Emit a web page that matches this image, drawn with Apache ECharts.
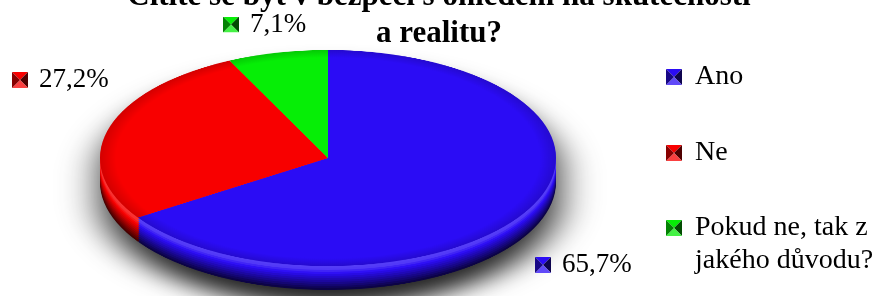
<!DOCTYPE html>
<html>
<head>
<meta charset="utf-8">
<script src="https://cdn.jsdelivr.net/npm/echarts@6/dist/echarts.min.js"></script>
<style>
  html, body { margin: 0; padding: 0; background: #fff; }
  #wrap { position: relative; width: 878px; height: 296px; overflow: hidden; }
  #pie { position: absolute; left: 0; top: 0; width: 878px; transform-origin: 0 0;
         filter: drop-shadow(2px 36px 20px rgba(0, 0, 0, 0.85)); }
  #fg { position: absolute; left: 0; top: 0; width: 878px; height: 296px; }
</style>
</head>
<body>
<div id="wrap"><div id="pie"></div><div id="fg"></div></div>
<script>
// data
const categories = ['Ano', 'Ne', 'Pokud ne, tak z jakého důvodu?']
const values = [65.7, 27.2, 7.1]
const colors = ['#2b0cf5', '#f80000', '#06ee06']

const titleText = 'Cítíte se být v bezpečí s ohledem na skutečnosti\na realitu?'
const FONT = '"Liberation Serif", "Times New Roman", serif'

// pie geometry (screen px): flattened by scaling the pie canvas
const CX = 328
const CY = 158
const R = 228
const RY = 108
const DEPTH = 24
const K = RY / R

// label anchors (left edge of icon, vertical middle)
const labelPos = [[535, 265], [12, 80], [223, 24.5]]

function hexRgb(hex) {
  const n = parseInt(hex.slice(1), 16)
  return [(n >> 16) & 255, (n >> 8) & 255, n & 255]
}
function shade(hex, f) {
  const c = hexRgb(hex).map(v => Math.round(v * f))
  return 'rgb(' + c.join(',') + ')'
}
function tint(hex, t) {
  const c = hexRgb(hex).map(v => Math.round(v + (255 - v) * t))
  return 'rgb(' + c.join(',') + ')'
}
// rim colour by depth fraction: highlight just under the edge, then darker
function rimColor(c, f) {
  if (f < 0.15) return tint(c, 0.2)
  if (f < 0.35) return tint(c, 0.2 * (0.35 - f) / 0.2)
  return shade(c, 1 - 0.72 * (f - 0.35) / 0.65)
}
function iconUrl(c) {
  const svg = "<svg xmlns='http://www.w3.org/2000/svg' width='16' height='16'>" +
    "<polygon points='0,0 16,0 8,8' fill='" + c + "'/>" +
    "<polygon points='16,0 16,16 8,8' fill='" + shade(c, 0.32) + "'/>" +
    "<polygon points='0,16 16,16 8,8' fill='" + tint(c, 0.25) + "'/>" +
    "<polygon points='0,0 0,16 8,8' fill='" + shade(c, 0.55) + "'/>" +
    '</svg>'
  return 'data:image/svg+xml;charset=utf-8,' + encodeURIComponent(svg)
}
const icons = colors.map(iconUrl)
const pctText = values.map(v => v.toFixed(1).replace('.', ',') + '%')

const pieData = (colorFn) => categories.map((name, i) => ({
  name: name,
  value: values[i],
  itemStyle: { color: colorFn(colors[i]) }
}))

// ---------- pie (3D look) ----------
const pieEl = document.getElementById('pie')
pieEl.style.height = Math.round(296 / K) + 'px'
pieEl.style.transform = 'scaleY(' + K + ')'
const pieChart = echarts.init(pieEl, null, { renderer: 'canvas' })

const base = {
  type: 'pie',
  startAngle: 90,
  radius: R,
  silent: true,
  animation: false,
  label: { show: false },
  labelLine: { show: false },
  emphasis: { disabled: true }
}

const series = []
// rim bands, deepest first
for (let off = DEPTH; off > 0; off -= 2) {
  const f = off / DEPTH
  series.push(Object.assign({}, base, {
    center: [CX, (CY + off) / K],
    data: pieData(c => rimColor(c, f)),
    itemStyle: { borderWidth: 0 }
  }))
}
// top face
series.push(Object.assign({}, base, {
  center: [CX, CY / K],
  data: categories.map((name, i) => ({
    name: name,
    value: values[i],
    itemStyle: {
      color: {
        type: 'radial', x: CX, y: CY / K, r: R, global: true,
        colorStops: [
          { offset: 0, color: colors[i] },
          { offset: 0.93, color: colors[i] },
          { offset: 1, color: shade(colors[i], 0.85) }
        ]
      }
    }
  })),
  itemStyle: { borderWidth: 0 }
}))
pieChart.setOption({ animation: false, series: series })

// ---------- title, legend, labels ----------
const fg = echarts.init(document.getElementById('fg'), null, { renderer: 'canvas' })
const rich = { t: { fontFamily: FONT, fontSize: 27, color: '#000', padding: [0, 0, 0, 11] } }
icons.forEach((u, i) => {
  rich['i' + i] = { width: 16, height: 16, backgroundColor: { image: u } }
})
const legendText = { fontFamily: FONT, fontSize: 28, lineHeight: 33, color: '#000' }
const legendCommon = {
  orient: 'vertical',
  left: 666,
  padding: 0,
  itemWidth: 16,
  itemHeight: 16,
  selectedMode: false
}
fg.setOption({
  animation: false,
  title: {
    text: titleText,
    left: 'center',
    top: -22,
    padding: [0, 0, 0, 7],
    textStyle: { fontFamily: FONT, fontWeight: 'bold', fontSize: 31, lineHeight: 37, color: '#000' }
  },
  legend: [
    Object.assign({}, legendCommon, {
      top: 60.5,
      itemGap: 43,
      data: categories.slice(0, 2).map((n, i) => ({ name: n, icon: 'image://' + icons[i] })),
      textStyle: Object.assign({ padding: [0, 0, 0, 8] }, legendText)
    }),
    Object.assign({}, legendCommon, {
      top: 178.5,
      data: [{ name: categories[2], icon: 'image://' + icons[2] }],
      // empty first line keeps the icon beside the first visible line
      formatter: n => '{a| }\n{a|' + n.replace('tak z ', 'tak z}\n{a|') + '}',
      textStyle: Object.assign({ padding: [0, 0, 0, 8], rich: { a: legendText } }, legendText)
    })
  ],
  series: [{
    type: 'pie',
    center: [CX, CY],
    radius: [0, 1],
    startAngle: 90,
    silent: true,
    avoidLabelOverlap: false,
    itemStyle: { color: 'rgba(0,0,0,0)' },
    data: categories.map((n, i) => ({ name: n, value: values[i] })),
    label: {
      show: true,
      position: 'outside',
      formatter: p => '{i' + p.dataIndex + '|}{t|' + pctText[p.dataIndex] + '}',
      rich: rich
    },
    labelLine: { show: false },
    labelLayout: p => ({
      x: labelPos[p.dataIndex][0],
      y: labelPos[p.dataIndex][1],
      align: 'left',
      verticalAlign: 'middle'
    })
  }]
})
</script>
</body>
</html>
